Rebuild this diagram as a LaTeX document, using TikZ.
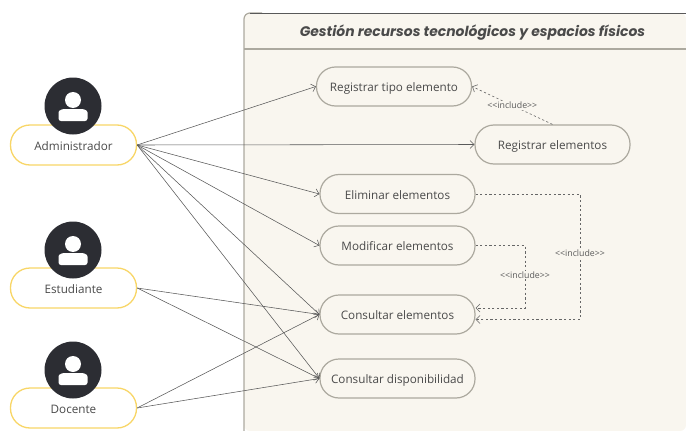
\documentclass[tikz,border=0pt]{standalone}
\usepackage{fontspec}
\setmainfont{Open Sans}
\newfontfamily\titlefont{Poppins}
\usepackage{xcolor}
\usetikzlibrary{arrows.meta,positioning}
\definecolor{marco}{HTML}{F9F6EF}
\definecolor{borde}{HTML}{ACA99F}
\definecolor{amarillo}{HTML}{F8D667}
\definecolor{oscuro}{HTML}{2C2D33}
\definecolor{texto}{HTML}{4A4A4A}
\tikzset{>={Straight Barb[length=4pt,width=8pt]},
         every node/.style={text=texto},
         actor/.style={draw=amarillo,line width=1.3pt,fill=white,rounded corners=19.5pt,
            minimum width=126pt,minimum height=40pt,inner sep=0pt,text height=11.5pt,text depth=0pt,
            font=\fontsize{11.7}{14}\selectfont},
         caso/.style={draw=borde,line width=1.2pt,fill=marco,rounded corners=19pt,
            minimum width=155pt,minimum height=39pt,inner sep=0pt,text height=10pt,text depth=0pt,
            font=\fontsize{11.7}{15}\selectfont},
         avatar/.style={circle,fill=oscuro,minimum size=57pt,inner sep=0pt},
         assoc/.style={->,draw=black!65,line width=0.55pt},
         incl/.style={->,draw=black!60,line width=0.6pt,dash pattern=on 2.2pt off 2.4pt},
         labeled/.style={text=black!65,font=\fontsize{8.8}{10}\selectfont,fill=marco,inner sep=1pt}}
\tikzset{persona/.pic={
    \fill[white] (0,-6) circle (8pt);
    \fill[white,rounded corners=2.5pt] (-14.5,15) -- (-14.5,9) .. controls (-14.5,4) and (-10,3) .. (-6,3)
       -- (6,3) .. controls (10,3) and (14.5,4) .. (14.5,9) -- (14.5,15) -- cycle;
}}
\begin{document}
\begin{tikzpicture}[x=1pt,y=-1pt]
   \useasboundingbox (0,0) rectangle (686,431);
   % marco del sistema
   \fill[marco,rounded corners=6pt] (244,431) -- (244,13) -- (686,13) -- (686,431) -- cycle;
   \draw[borde,line width=1.2pt,rounded corners=6pt] (244,431) -- (244,13) -- (262,13);
   \draw[black!65,line width=0.8pt] (250,13) -- (686,13);
   \draw[borde,line width=1.2pt] (244,49) -- (686,49);
   \node (titulo) at (472.5,33) {\titlefont\fontsize{13.9}{17}\selectfont\bfseries\itshape Gestión recursos tecnológicos y espacios físicos};
   % actores
   \node[actor] (admin) at (73.5,145) {Administrador};
   \node[actor] (estud) at (73.5,288) {Estudiante};
   \node[actor] (doc) at (73.5,408) {Docente};
   \node[avatar] (fotoA) at (73,106) {};
   \node[avatar] (fotoE) at (73,250) {};
   \node[avatar] (fotoD) at (73,370) {};
   \pic at (fotoA.center) {persona};
   \pic at (fotoE.center) {persona};
   \pic at (fotoD.center) {persona};
   % casos de uso
   \node[caso] (regtipo) at (394,86.5) {Registrar tipo elemento};
   \node[caso] (regelem) at (552.5,144.5) {Registrar elementos};
   \node[caso] (elim) at (397.5,194) {Eliminar elementos};
   \node[caso] (modif) at (397.5,245.5) {Modificar elementos};
   \node[caso] (consul) at (397.5,314.5) {Consultar elementos};
   \node[caso] (dispo) at (397.5,378.5) {Consultar disponibilidad};
   \coordinate (consA) at ([yshift=6.5pt]consul.east);
   \coordinate (consB) at ([yshift=-5pt]consul.east);
   \coordinate (giroM) at (525,245.5);
   \coordinate (giroE) at (580,194);
   % asociaciones
   \foreach \caso in {regtipo,regelem,elim,modif,consul,dispo}
      \draw[assoc] (admin.east) -- (\caso.west);
   \draw[assoc] (estud.east) -- (consul.west);
   \draw[assoc] (estud.east) -- (dispo.west);
   \draw[assoc] (doc.east) -- (consul.west);
   \draw[assoc] (doc.east) -- (dispo.west);
   % include
   \draw[incl] (regelem.north) -- node[labeled,pos=0.5] (inclR) {<{}<include>{}>} (regtipo.east);
   \draw[incl] (modif.east) -- (giroM) |- node[labeled,pos=0.236] (inclM) {<{}<include>{}>} (consA);
   \draw[incl] (elim.east) -- (giroE) |- node[labeled,pos=0.235] (inclE) {<{}<include>{}>} (consB);
\end{tikzpicture}
\end{document}
